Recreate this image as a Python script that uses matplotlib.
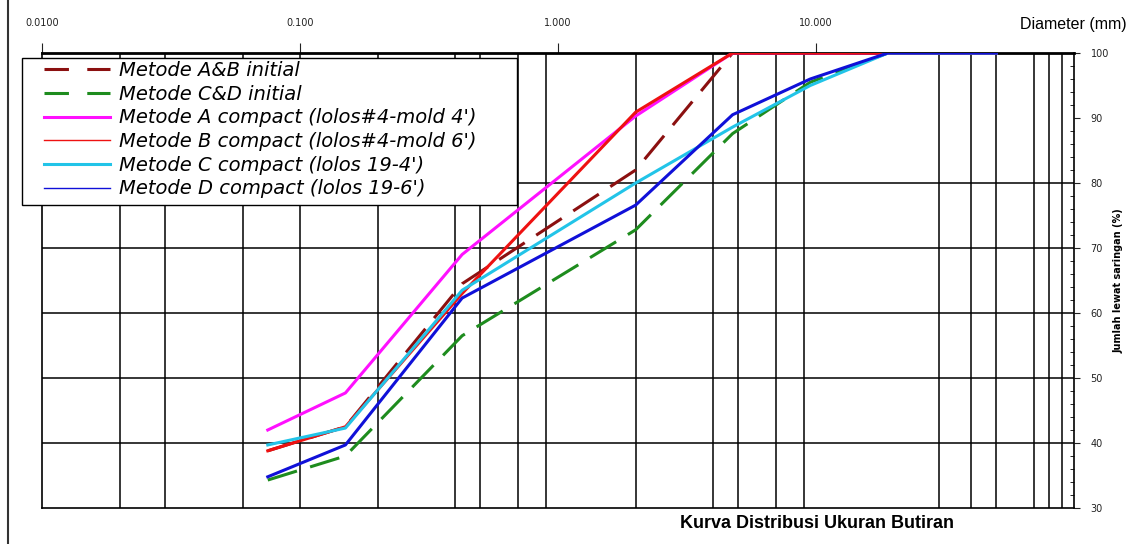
import matplotlib
matplotlib.use("Agg")
import matplotlib.pyplot as plt
from matplotlib.lines import Line2D
from matplotlib.patches import Rectangle
from matplotlib.ticker import FixedLocator, NullLocator, FixedFormatter

# ukuran saringan (mm) dan persen lolos
diameter = [0.075, 0.15, 0.425, 2.0, 4.75, 9.5, 19.0, 50.0]
ab_initial = [38.8, 42.5, 64.5, 82.0, 100, 100, 100, 100]
cd_initial = [34.3, 38.0, 56.5, 72.8, 87.6, 95.5, 100, 100]
a_compact = [42.0, 47.7, 69.0, 90.3, 100, 100, 100, 100]
b_compact = [38.8, 42.5, 63.0, 90.9, 100, 100, 100, 100]
c_compact = [39.7, 42.3, 63.5, 80.0, 88.6, 95.0, 100, 100]
d_compact = [34.8, 39.7, 62.3, 76.6, 90.5, 96.0, 100, 100]

labels = ["Metode A&B initial", "Metode C&D initial",
          "Metode A compact (lolos#4-mold 4')",
          "Metode B compact (lolos#4-mold 6')",
          "Metode C compact (lolos 19-4')",
          "Metode D compact (lolos 19-6')"]

top_ticks = [0.01, 0.1, 1.0, 10.0]
top_labels = ["0.0100", "0.100", "1.000", "10.000"]
y_ticks = [30, 40, 50, 60, 70, 80, 90, 100]

# garis grid seperti pada gambar asli
grid_x = [0.02, 0.03, 0.06, 0.1, 0.2, 0.4, 0.5, 0.7, 0.9, 2, 4, 5, 7, 9,
          30, 40, 50, 70, 80, 90]
grid_y = [40, 50, 60, 70, 80]

W, H = 1130, 544
fig = plt.figure(figsize=(W / 100, H / 100), dpi=100)
ax = fig.add_axes([42 / W, 1 - 508 / H, (1074 - 42) / W, (508 - 53) / H])

ax.set_xscale("log")
ax.set_xlim(0.01, 100)
ax.set_ylim(30, 100)

ax.vlines(grid_x, 0, 1, transform=ax.get_xaxis_transform(), color="black", lw=1.1, zorder=1)
ax.hlines(grid_y, 0, 1, transform=ax.get_yaxis_transform(), color="black", lw=1.1, zorder=1)

dash = (10, 4.5)
lw = 2.2
ax.plot(diameter, ab_initial, color="#8b1010", lw=lw, dashes=dash, zorder=3)
ax.plot(diameter, cd_initial, color="#1e8c1e", lw=lw, dashes=dash, zorder=3)
ax.plot(diameter, a_compact, color="#ff10ff", lw=lw, zorder=3)
ax.plot(diameter, b_compact, color="#ee1111", lw=lw, zorder=3)
ax.plot(diameter, c_compact, color="#22c4e8", lw=lw, zorder=3)
ax.plot(diameter, d_compact, color="#1010d8", lw=lw, zorder=3)

# sumbu x di atas
ax.xaxis.set_ticks_position("top")
ax.xaxis.set_major_locator(FixedLocator(top_ticks))
ax.xaxis.set_major_formatter(FixedFormatter(top_labels))
ax.xaxis.set_minor_locator(NullLocator())
ax.tick_params(axis="x", which="major", direction="out", length=7, pad=11,
               labelsize=7, colors="#222222")

# sumbu y di kanan
ax.yaxis.set_ticks_position("right")
ax.yaxis.set_major_locator(FixedLocator(y_ticks))
ax.yaxis.set_minor_locator(FixedLocator(list(range(30, 101, 2))))
ax.tick_params(axis="y", which="major", direction="out", length=4, pad=8,
               labelsize=7, colors="#222222")
ax.tick_params(axis="y", which="minor", direction="in", length=3, width=0.6)
ax.yaxis.set_label_position("right")
ax.set_ylabel("Jumlah lewat saringan (%)", fontsize=7, fontweight="bold",
              labelpad=3, rotation=90)

for s in ax.spines.values():
    s.set_linewidth(1.2)
ax.spines["top"].set_linewidth(2.0)

# kotak legenda
fig.add_artist(Rectangle((22 / W, 1 - 205 / H), 495 / W, 147 / H, transform=fig.transFigure,
                         facecolor="white", edgecolor="black", lw=1.0, zorder=2))

handles = [
    Line2D([], [], color="#8b1010", lw=2.2, dashes=(8, 6)),
    Line2D([], [], color="#1e8c1e", lw=2.2, dashes=(8, 6)),
    Line2D([], [], color="#ff10ff", lw=2.2),
    Line2D([], [], color="#ee1111", lw=1.0),
    Line2D([], [], color="#22c4e8", lw=2.2),
    Line2D([], [], color="#1010d8", lw=1.0),
]
leg = fig.legend(handles, labels, loc="upper left",
                 bbox_to_anchor=(44 / W, 1 - 61 / H), frameon=False,
                 prop={"family": "DejaVu Sans", "style": "italic", "size": 14},
                 handlelength=3.4, handletextpad=0.45, labelspacing=0.24,
                 borderpad=0, borderaxespad=0)
leg.set_zorder(3)

fig.text(0.997, 1 - 25 / H, "Diameter (mm)", ha="right", va="center",
         fontsize=11.5, family="Liberation Sans")
fig.text(680 / W, 1 - 523 / H, "Kurva Distribusi Ukuran Butiran", ha="left",
         va="center", fontsize=13, fontweight="bold", family="Liberation Sans")

# garis tepi kiri halaman
fig.add_artist(Line2D([8 / W, 8 / W], [0, 1], transform=fig.transFigure,
                      color="#333333", lw=1.5))

fig.savefig("out.png", dpi=100)
